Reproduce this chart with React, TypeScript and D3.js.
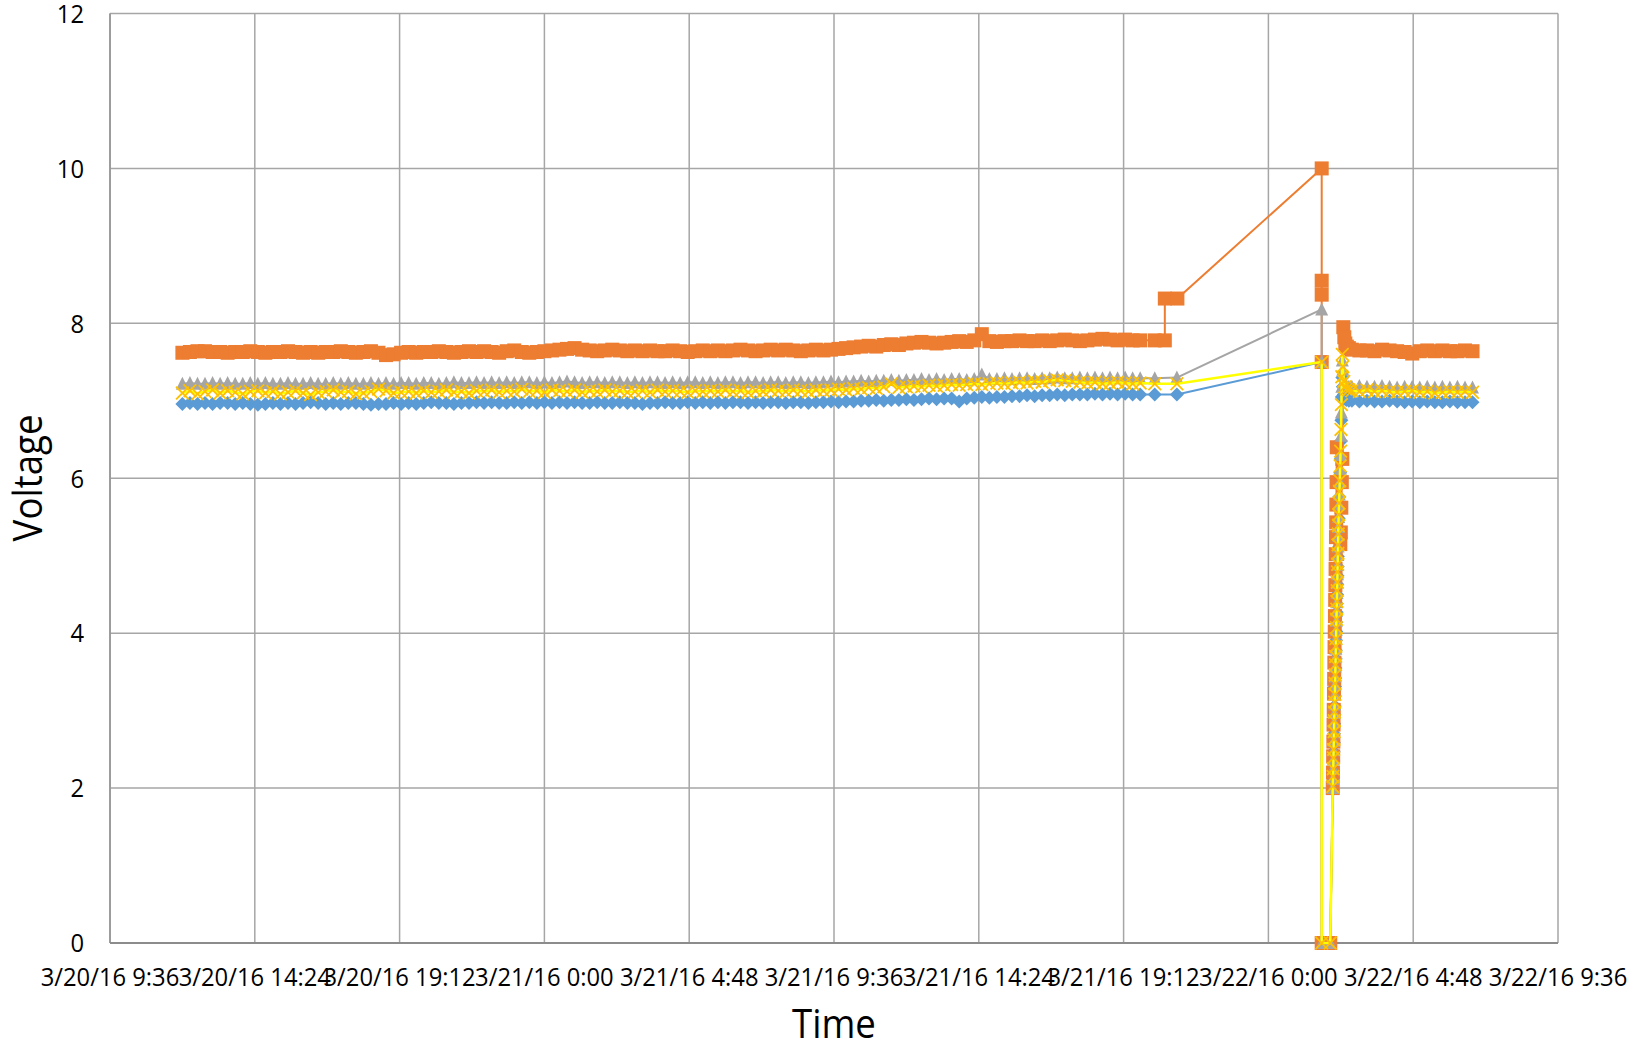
import React from 'react';
import * as d3 from 'd3';

const W = 1634;
const H = 1048;
const PLOT = { left: 110, right: 1558, top: 13.5, bottom: 943 };

const axisStart = '3/20/16 9:36';
const axisEnd = '3/22/16 9:36';
const xTickStepHours = 4.8;
const yTicks = [0, 2, 4, 6, 8, 10, 12];

// Regular logging: every 15 min from 3/20/16 12:00
const mainStart = '3/20/16 12:00';
const mainStepMinutes = 15;

const blueMain = [
  6.96, 6.97, 6.96, 6.97, 6.96, 6.97, 6.97, 6.96, 6.97, 6.96,
  6.95, 6.96, 6.97, 6.96, 6.97, 6.96, 6.97, 6.98, 6.97, 6.96,
  6.97, 6.96, 6.97, 6.97, 6.96, 6.95, 6.96, 6.96, 6.97, 6.96,
  6.97, 6.96, 6.97, 6.98, 6.97, 6.97, 6.96, 6.97, 6.97, 6.98,
  6.97, 6.98, 6.97, 6.97, 6.98, 6.97, 6.98, 6.97, 6.98, 6.97,
  6.98, 6.97, 6.98, 6.97, 6.97, 6.98, 6.97, 6.97, 6.98, 6.97,
  6.97, 6.96, 6.97, 6.97, 6.98, 6.97, 6.97, 6.98, 6.97, 6.98,
  6.97, 6.98, 6.97, 6.98, 6.98, 6.97, 6.98, 6.97, 6.98, 6.98,
  6.97, 6.98, 6.98, 6.97, 6.98, 6.98, 6.99, 6.98, 6.99, 6.99,
  7.00, 7.00, 7.01, 7.00, 7.01, 7.01, 7.02, 7.01, 7.02, 7.03,
  7.02, 7.03, 7.03, 6.99, 7.03, 7.04, 7.05, 7.04, 7.05, 7.05,
  7.06, 7.06, 7.07, 7.06, 7.07, 7.07, 7.08, 7.07, 7.08, 7.08,
  7.08, 7.09, 7.08, 7.09, 7.08, 7.09, 7.08, 7.08,
];

const orangeMain = [
  7.62, 7.63, 7.64, 7.64, 7.63, 7.63, 7.62, 7.63, 7.63, 7.64,
  7.63, 7.62, 7.63, 7.63, 7.64, 7.63, 7.62, 7.63, 7.62, 7.63,
  7.63, 7.64, 7.63, 7.62, 7.63, 7.64, 7.62, 7.59, 7.60, 7.62,
  7.63, 7.62, 7.63, 7.63, 7.64, 7.63, 7.62, 7.63, 7.64, 7.63,
  7.64, 7.63, 7.62, 7.64, 7.65, 7.63, 7.62, 7.63, 7.64, 7.65,
  7.66, 7.67, 7.68, 7.66, 7.65, 7.64, 7.65, 7.66, 7.65, 7.64,
  7.65, 7.64, 7.65, 7.64, 7.64, 7.65, 7.64, 7.63, 7.64, 7.65,
  7.64, 7.65, 7.64, 7.65, 7.66, 7.65, 7.64, 7.65, 7.66, 7.65,
  7.66, 7.65, 7.64, 7.65, 7.66, 7.65, 7.66, 7.67, 7.68, 7.69,
  7.70, 7.71, 7.70, 7.72, 7.73, 7.72, 7.74, 7.75, 7.76, 7.75,
  7.74, 7.75, 7.76, 7.77, 7.76, 7.78, 7.86, 7.77, 7.76, 7.77,
  7.77, 7.78, 7.77, 7.77, 7.78, 7.77, 7.78, 7.79, 7.78, 7.77,
  7.78, 7.79, 7.80, 7.79, 7.78, 7.79, 7.78, 7.78,
];

const grayMain = [
  7.22, 7.23, 7.22, 7.22, 7.23, 7.22, 7.23, 7.22, 7.22, 7.23,
  7.22, 7.23, 7.22, 7.22, 7.23, 7.22, 7.22, 7.23, 7.22, 7.22,
  7.23, 7.22, 7.23, 7.22, 7.22, 7.23, 7.22, 7.23, 7.22, 7.23,
  7.23, 7.22, 7.23, 7.23, 7.22, 7.23, 7.24, 7.23, 7.23, 7.24,
  7.23, 7.24, 7.23, 7.24, 7.23, 7.24, 7.24, 7.23, 7.24, 7.23,
  7.24, 7.25, 7.24, 7.23, 7.24, 7.24, 7.23, 7.24, 7.24, 7.23,
  7.24, 7.23, 7.24, 7.24, 7.23, 7.24, 7.23, 7.24, 7.24, 7.23,
  7.24, 7.23, 7.24, 7.24, 7.23, 7.24, 7.24, 7.23, 7.24, 7.24,
  7.23, 7.24, 7.24, 7.23, 7.24, 7.24, 7.25, 7.24, 7.25, 7.25,
  7.26, 7.25, 7.26, 7.26, 7.27, 7.26, 7.27, 7.27, 7.28, 7.27,
  7.28, 7.27, 7.28, 7.28, 7.27, 7.28, 7.34, 7.28, 7.28, 7.29,
  7.28, 7.29, 7.29, 7.28, 7.29, 7.29, 7.30, 7.29, 7.29, 7.30,
  7.29, 7.30, 7.29, 7.30, 7.29, 7.30, 7.29, 7.29,
];

const yellowMain = [
  7.10, 7.13, 7.09, 7.12, 7.14, 7.10, 7.13, 7.11, 7.09, 7.12,
  7.13, 7.10, 7.12, 7.09, 7.11, 7.13, 7.10, 7.08, 7.11, 7.12,
  7.14, 7.11, 7.12, 7.09, 7.10, 7.12, 7.15, 7.13, 7.10, 7.11,
  7.12, 7.10, 7.13, 7.11, 7.12, 7.14, 7.11, 7.12, 7.10, 7.13,
  7.12, 7.14, 7.11, 7.13, 7.12, 7.15, 7.12, 7.13, 7.11, 7.14,
  7.13, 7.12, 7.14, 7.11, 7.13, 7.12, 7.14, 7.12, 7.13, 7.11,
  7.12, 7.13, 7.11, 7.14, 7.12, 7.13, 7.12, 7.11, 7.13, 7.12,
  7.13, 7.12, 7.14, 7.12, 7.13, 7.11, 7.13, 7.12, 7.14, 7.13,
  7.12, 7.14, 7.13, 7.12, 7.14, 7.13, 7.14, 7.15, 7.14, 7.16,
  7.15, 7.17, 7.16, 7.18, 7.22, 7.17, 7.18, 7.19, 7.18, 7.20,
  7.19, 7.20, 7.21, 7.20, 7.21, 7.22, 7.21, 7.22, 7.23, 7.22,
  7.23, 7.24, 7.23, 7.25, 7.24, 7.26, 7.27, 7.26, 7.25, 7.24,
  7.23, 7.24, 7.22, 7.23, 7.24, 7.23, 7.22, 7.23,
];

// Last readings before the gap
const tailTimes = ['3/21/16 20:14', '3/21/16 20:58'];
const blueTail = [7.08, 7.08];
const grayTail = [7.29, 7.30];
const yellowTail = [7.22, 7.22];
const orangeTailTimes = ['3/21/16 20:14', '3/21/16 20:34', '3/21/16 20:34', '3/21/16 20:59'];
const orangeTail = [7.78, 7.78, 8.32, 8.32];

// Event around 3/22/16 1:46
const blueEventTimes = ['3/22/16 1:46', '3/22/16 1:46', '3/22/16 2:03'];
const blueEvent = [7.5, 0, 0];
const orangeEventTimes = ['3/22/16 1:46', '3/22/16 1:46', '3/22/16 1:46', '3/22/16 1:46', '3/22/16 1:46', '3/22/16 2:03'];
const orangeEvent = [10, 8.55, 8.37, 7.5, 0, 0];
const grayEventTimes = ['3/22/16 1:46', '3/22/16 1:46', '3/22/16 1:46', '3/22/16 2:03'];
const grayEvent = [8.18, 7.5, 0, 0];
const yellowEventTimes = ['3/22/16 1:46', '3/22/16 1:46', '3/22/16 2:03'];
const yellowEvent = [7.5, 0, 0];

// Recovery (minutes after 3/22/16 0:00)
const recoveryMinutes = [
  128, 128.5, 129, 129.4, 129.8, 130.2, 130.6, 131, 131.4, 131.8,
  132.2, 132.6, 133, 133.4, 133.8, 134.2, 134.6, 135, 135.4, 135.8,
  136.2, 136.6, 137, 137.4, 137.8, 138.2, 138.6, 139, 139.4, 139.8,
  140.5, 141.2, 142, 142.8, 143.6, 144.4, 145.2, 146, 147, 148, 150, 152, 155, 160,
];
const grayRecovery = [
  2.0, 2.12, 2.25, 2.37, 2.49, 2.61, 2.72, 2.85, 2.97, 3.08,
  3.21, 3.33, 3.44, 3.57, 3.69, 3.80, 3.93, 4.04, 4.16, 4.29,
  4.40, 4.52, 4.65, 4.76, 4.88, 5.01, 5.12, 5.26, 5.37, 5.50,
  5.66, 5.79, 5.95, 6.12, 6.30, 6.55, 6.85, 7.18, 7.52, 7.40, 7.26, 7.21, 7.19, 7.18,
];
const yellowRecovery = [
  2.02, 2.15, 2.25, 2.39, 2.50, 2.63, 2.73, 2.87, 2.98, 3.11,
  3.21, 3.35, 3.46, 3.59, 3.70, 3.83, 3.93, 4.07, 4.18, 4.31,
  4.41, 4.55, 4.66, 4.79, 4.89, 5.03, 5.14, 5.28, 5.39, 5.53,
  5.68, 5.83, 5.97, 6.16, 6.35, 6.63, 6.95, 7.31, 7.60, 7.44, 7.25, 7.18, 7.15, 7.14,
];
const blueRecovery = [
  1.98, 2.10, 2.23, 2.35, 2.47, 2.59, 2.70, 2.83, 2.95, 3.06,
  3.19, 3.31, 3.42, 3.55, 3.67, 3.78, 3.91, 4.02, 4.14, 4.27,
  4.38, 4.50, 4.63, 4.74, 4.86, 4.99, 5.10, 5.24, 5.35, 5.48,
  5.63, 5.76, 5.91, 6.07, 6.25, 6.48, 6.75, 7.05, 7.30, 7.18, 7.08, 7.03, 7.01, 7.00,
];
const orangeRecoveryMinutes = [
  128, 128.4, 128.8, 129.2, 129.6, 130, 130.4, 130.8, 131.2, 131.6,
  132, 132.4, 132.8, 133.2, 133.6, 134, 134.4, 134.8, 135.2, 135.6,
  136, 143, 144, 145, 146, 147, 149, 151, 153, 156, 160,
];
const orangeRecovery = [
  2.0, 2.2, 2.41, 2.6, 2.82, 3.01, 3.22, 3.41, 3.62, 3.82,
  4.02, 4.22, 4.43, 4.62, 4.83, 5.02, 5.24, 5.43, 5.66, 5.95,
  6.40, 5.15, 5.30, 5.62, 5.95, 6.25, 7.95, 7.82, 7.74, 7.70, 7.68,
];

// Settled readings after recovery (minutes after 3/22/16 0:00)
const flatMinutes = [166, 181, 196, 211, 226, 241, 256, 271, 286, 301, 316, 331, 346, 361, 376, 391, 406];
const orangeFlat = [7.66, 7.65, 7.65, 7.64, 7.66, 7.65, 7.64, 7.63, 7.61, 7.64, 7.65, 7.64, 7.65, 7.64, 7.64, 7.65, 7.64];
const grayFlat = [7.18, 7.19, 7.18, 7.18, 7.19, 7.18, 7.17, 7.18, 7.18, 7.17, 7.18, 7.17, 7.18, 7.17, 7.18, 7.17, 7.17];
const yellowFlat = [7.13, 7.12, 7.14, 7.12, 7.13, 7.12, 7.11, 7.12, 7.13, 7.11, 7.12, 7.10, 7.11, 7.12, 7.11, 7.12, 7.11];
const blueFlat = [7.00, 6.99, 7.00, 6.99, 6.99, 7.00, 6.99, 6.98, 6.99, 6.98, 6.99, 6.98, 6.98, 6.99, 6.98, 6.98, 6.98];

const dayRef = '3/22/16 0:00';

function parseT(s: string): number {
  const [d, t] = s.split(' ');
  const [m, day, yy] = d.split('/').map(Number);
  const [h, mi] = t.split(':').map(Number);
  return Date.UTC(2000 + yy, m - 1, day, h, mi);
}

type Pt = { t: number; v: number };

function build(
  main: number[],
  tailT: string[], tail: number[],
  evT: string[], ev: number[],
  recMin: number[], rec: number[],
  flat: number[],
): Pt[] {
  const s0 = parseT(mainStart);
  const ref = parseT(dayRef);
  const pts: Pt[] = [];
  main.forEach((v, i) => pts.push({ t: s0 + i * mainStepMinutes * 60000, v }));
  tail.forEach((v, i) => pts.push({ t: parseT(tailT[i]), v }));
  ev.forEach((v, i) => pts.push({ t: parseT(evT[i]), v }));
  rec.forEach((v, i) => pts.push({ t: ref + recMin[i] * 60000, v }));
  flat.forEach((v, i) => pts.push({ t: ref + flatMinutes[i] * 60000, v }));
  return pts;
}

const FONT = "'Open Sans', 'Noto Sans', sans-serif";
const SX = 0.915;

function fmtTick(ms: number): string {
  const d = new Date(ms);
  const mm = String(d.getUTCMinutes()).padStart(2, '0');
  return `${d.getUTCMonth() + 1}/${d.getUTCDate()}/${String(d.getUTCFullYear()).slice(2)} ${d.getUTCHours()}:${mm}`;
}

function Marker({ kind, x, y }: { kind: string; x: number; y: number }) {
  if (kind === 'diamond') {
    const r = 7;
    return <path d={`M${x},${y - r}L${x + r},${y}L${x},${y + r}L${x - r},${y}Z`} fill="#5B9BD5" />;
  }
  if (kind === 'square') {
    const s = 14;
    return <rect x={x - s / 2} y={y - s / 2} width={s} height={s} fill="#ED7D31" />;
  }
  if (kind === 'triangle') {
    const w = 13, h = 12;
    return <path d={`M${x},${y - h / 2 - 1}L${x + w / 2},${y + h / 2}L${x - w / 2},${y + h / 2}Z`} fill="#A5A5A5" />;
  }
  const r = 6.3;
  return (
    <path
      d={`M${x - r},${y - r}L${x + r},${y + r}M${x - r},${y + r}L${x + r},${y - r}`}
      stroke="#FFC000"
      strokeWidth={1.8}
      fill="none"
    />
  );
}

export default function App() {
  const x = d3.scaleUtc().domain([parseT(axisStart), parseT(axisEnd)]).range([PLOT.left, PLOT.right]);
  const y = d3.scaleLinear().domain([0, 12]).range([PLOT.bottom, PLOT.top]);

  const nTicks = Math.round((parseT(axisEnd) - parseT(axisStart)) / (xTickStepHours * 3600000));
  const xTicks = d3.range(nTicks + 1).map((i) => parseT(axisStart) + i * xTickStepHours * 3600000);

  const series = [
    { name: 'blue', color: '#5B9BD5', marker: 'diamond', width: 2, pts: build(blueMain, tailTimes, blueTail, blueEventTimes, blueEvent, recoveryMinutes, blueRecovery, blueFlat) },
    { name: 'orange', color: '#ED7D31', marker: 'square', width: 2, pts: build(orangeMain, orangeTailTimes, orangeTail, orangeEventTimes, orangeEvent, orangeRecoveryMinutes, orangeRecovery, orangeFlat) },
    { name: 'gray', color: '#A5A5A5', marker: 'triangle', width: 2, pts: build(grayMain, tailTimes, grayTail, grayEventTimes, grayEvent, recoveryMinutes, grayRecovery, grayFlat) },
    { name: 'yellow', color: '#FFFF00', marker: 'x', width: 2.5, pts: build(yellowMain, tailTimes, yellowTail, yellowEventTimes, yellowEvent, recoveryMinutes, yellowRecovery, yellowFlat) },
  ];

  const line = d3.line<Pt>().x((d) => x(d.t)).y((d) => y(d.v));

  return (
    <svg width={W} height={H} style={{ position: 'absolute', left: 0, top: 0, background: '#fff' }}>
      <rect x={0} y={0} width={W} height={H} fill="#fff" />
      {yTicks.filter((v) => v !== 0).map((v) => (
        <line key={`gy${v}`} x1={PLOT.left} x2={PLOT.right} y1={y(v)} y2={y(v)} stroke="#A6A6A6" strokeWidth={1.5} />
      ))}
      {xTicks.map((t) => (
        <line key={`gx${t}`} x1={x(t)} x2={x(t)} y1={PLOT.top} y2={PLOT.bottom} stroke="#A6A6A6" strokeWidth={1.5} />
      ))}
      <line x1={PLOT.left} x2={PLOT.left} y1={PLOT.top} y2={PLOT.bottom} stroke="#999" strokeWidth={1.8} />
      <line x1={PLOT.left} x2={PLOT.right} y1={PLOT.bottom} y2={PLOT.bottom} stroke="#8C8C8C" strokeWidth={2} />

      {series.map((s) => (
        <g key={s.name}>
          <path d={line(s.pts) || ''} fill="none" stroke={s.color} strokeWidth={s.width} strokeLinejoin="round" />
          {s.pts.map((p, i) => (
            <Marker key={i} kind={s.marker} x={x(p.t)} y={y(p.v)} />
          ))}
        </g>
      ))}

      {yTicks.map((v) => (
        <text
          key={`ly${v}`}
          transform={`translate(${PLOT.left - 26},${y(v) + 9.3}) scale(${SX},1)`}
          textAnchor="end"
          fontFamily={FONT}
          fontSize={26}
          fill="#000"
        >
          {v}
        </text>
      ))}
      {xTicks.map((t) => (
        <text
          key={`lx${t}`}
          transform={`translate(${x(t)},${986}) scale(${SX},1)`}
          textAnchor="middle"
          fontFamily={FONT}
          fontSize={26}
          fill="#000"
        >
          {fmtTick(t)}
        </text>
      ))}
      <text transform={`translate(834,1038) scale(${SX},1)`} textAnchor="middle" fontFamily={FONT} fontSize={40} fill="#000">
        Time
      </text>
      <text transform={`translate(42,478) rotate(-90) scale(${SX},1)`} textAnchor="middle" fontFamily={FONT} fontSize={40} fill="#000">
        Voltage
      </text>
    </svg>
  );
}
